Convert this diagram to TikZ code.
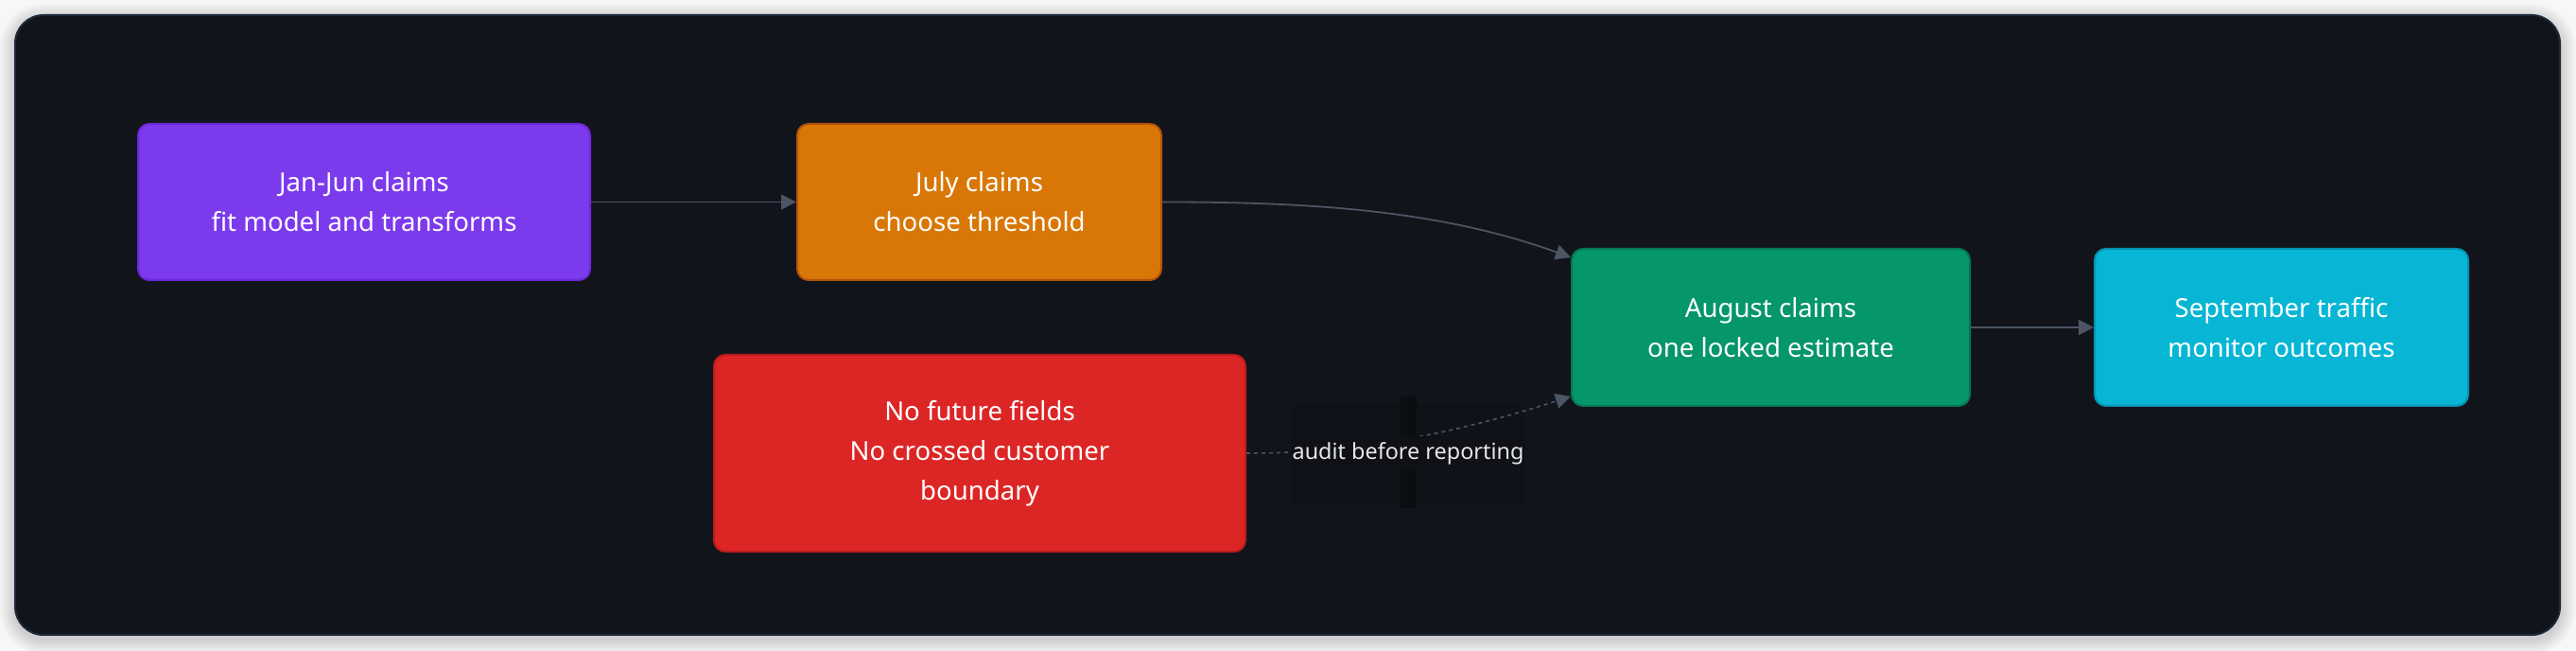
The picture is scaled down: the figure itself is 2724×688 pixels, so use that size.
\documentclass[tikz,border=0pt]{standalone}
\usepackage{fontspec}
\setmainfont{Noto Sans}
\usetikzlibrary{arrows.meta}
\definecolor{pagebg}{HTML}{F7F7F8}
\definecolor{panelbg}{HTML}{12141B}
\definecolor{panelline}{HTML}{1E293B}
\definecolor{edgecol}{HTML}{4B5563}
\definecolor{lblbg}{HTML}{0F1117}
\definecolor{barcol}{HTML}{0C0D11}
\definecolor{lbltext}{HTML}{E5E7EB}
\definecolor{purpfill}{HTML}{7C3AED}\definecolor{purpline}{HTML}{6D28D9}
\definecolor{orfill}{HTML}{D97706}\definecolor{orline}{HTML}{B45309}
\definecolor{redfill}{HTML}{DC2626}\definecolor{redline}{HTML}{B91C1C}
\definecolor{grfill}{HTML}{059669}\definecolor{grline}{HTML}{047857}
\definecolor{cyfill}{HTML}{06B6D4}\definecolor{cyline}{HTML}{0891B2}
\tikzset{
  box/.style={rectangle, rounded corners=6pt, line width=1pt, align=center,
    text=white, inner sep=0pt, minimum height=82.5pt,
    font=\fontsize{13.8pt}{21pt}\selectfont},
  arr/.style={draw=edgecol, line width=0.9pt, -{Triangle[length=8pt,width=8pt]}},
  dasharr/.style={draw=edgecol, line width=0.8pt, dash pattern=on 2pt off 2pt,
    -{Triangle[length=8pt,width=8pt]}},
  lbl/.style={fill=lblbg, text=lbltext, inner sep=0pt, minimum width=124pt,
    minimum height=18pt, font=\fontsize{11.7pt}{14pt}\selectfont}
}
\begin{document}
\begin{tikzpicture}[x=0.5pt,y=-0.5pt]
\useasboundingbox (0,0) rectangle (2724,688);
\fill[pagebg] (0,0) rectangle (2724,688);
% panel shadow
\foreach \i in {1,...,8}{
  \fill[black, opacity=0.018, rounded corners=15pt+\i*1pt]
    (16-\i*2,16-\i*2+4) rectangle (2707+\i*2,671+\i*2+4);
}
\filldraw[fill=panelbg, draw=panelline, line width=1pt, rounded corners=15pt]
  (16,16) rectangle (2707,671);

% nodes
\node[box, fill=purpfill, draw=purpline, minimum width=239pt] (jan) at (385,213.5)
  {Jan-Jun claims\\fit model and transforms};
\node[box, fill=orfill, draw=orline, minimum width=192.5pt] (jul) at (1035.5,213.5)
  {July claims\\choose threshold};
\node[box, fill=redfill, draw=redline, minimum width=281pt, minimum height=104pt] (nof) at (1036,479)
  {No future fields\\No crossed customer\\boundary};
\node[box, fill=grfill, draw=grline, minimum width=210.5pt, minimum height=83pt] (aug) at (1872.5,346)
  {August claims\\one locked estimate};
\node[box, fill=cyfill, draw=cyline, minimum width=197.5pt, minimum height=83pt] (sep) at (2412.5,346)
  {September traffic\\monitor outcomes};

% edges
\draw[arr] (jan.east) -- (jul.west);
\draw[arr] (jul.east) .. controls (1380,213.5) and (1520,221) .. ([yshift=-5pt]aug.north west);
\draw[arr] (aug.east) -- (sep.west);

% label artefacts and dashed edge
\fill[black, opacity=0.06] (1365,427) rectangle (1613,532);
\draw[dasharr] (nof.east) .. controls (1440,479) and (1545,456) .. ([yshift=5.5pt]aug.south west);
\fill[barcol] (1481,419) rectangle (1498,537);
\node[lbl] (audit) at (1489,479) {audit before reporting};
\end{tikzpicture}
\end{document}
